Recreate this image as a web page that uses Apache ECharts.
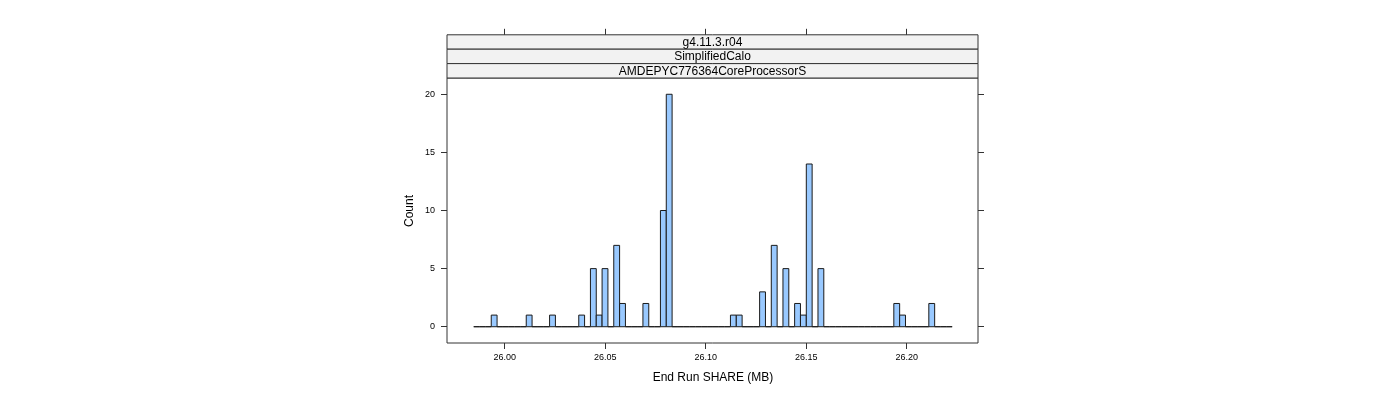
<!DOCTYPE html>
<html>
<head>
<meta charset="UTF-8">
<title>End Run SHARE histogram</title>
<script src="https://cdn.jsdelivr.net/npm/echarts@6.0.0/dist/echarts.min.js"></script>
<style>
    html, body { margin: 0; padding: 0; background: #fff; }
    #chart { width: 1400px; height: 400px; }
</style>
</head>
<body>
<div id="chart"></div>
<script>
// histogram bins: start, width and counts per bin
const binStart = 25.9846;
const binWidth = 0.002903;
const counts = [
    0, 0, 0, 1, 0, 0, 0, 0, 0, 1,
    0, 0, 0, 1, 0, 0, 0, 0, 1, 0,
    5, 1, 5, 0, 7, 2, 0, 0, 0, 2,
    0, 0, 10, 20, 0, 0, 0, 0, 0, 0,
    0, 0, 0, 0, 1, 1, 0, 0, 0, 3,
    0, 7, 0, 5, 0, 2, 1, 14, 0, 5,
    0, 0, 0, 0, 0, 0, 0, 0, 0, 0,
    0, 0, 2, 1, 0, 0, 0, 0, 2, 0,
    0, 0
];
const xTicks = [26.00, 26.05, 26.10, 26.15, 26.20];
const yTicks = [0, 5, 10, 15, 20];
const stripLabels = ['g4.11.3.r04', 'SimplifiedCalo', 'AMDEPYC776364CoreProcessorS'];

const bins = counts.map((c, i) => [binStart + i * binWidth, binStart + (i + 1) * binWidth, c]);

const font = 'Liberation Sans, Arial, sans-serif';
const panel = { left: 447, top: 78, width: 531, height: 265 };
const stripH = 14.4;

const chart = echarts.init(document.getElementById('chart'));

const tickStyle = { show: true, length: 6, inside: false, lineStyle: { color: '#333', width: 1 } };
const noLine = { show: false, onZero: false };

const graphics = [];
stripLabels.forEach((label, i) => {
    const y = panel.top - stripH * (stripLabels.length - i);
    graphics.push({
        type: 'rect',
        shape: { x: panel.left, y: y, width: panel.width, height: stripH },
        style: { fill: '#f2f2f2', stroke: '#333', lineWidth: 1 }
    });
    graphics.push({
        type: 'text',
        x: panel.left + panel.width / 2,
        y: y + stripH / 2 + 0.5,
        style: { text: label, fill: '#000', font: '12px ' + font, align: 'center', verticalAlign: 'middle' }
    });
});
graphics.push({
    type: 'text',
    x: 410,
    y: 211,
    rotation: Math.PI / 2,
    style: { text: 'Count', fill: '#000', font: '12px ' + font, align: 'center', verticalAlign: 'middle' }
});
graphics.push({
    type: 'text',
    x: 713,
    y: 378,
    style: { text: 'End Run SHARE (MB)', fill: '#000', font: '12px ' + font, align: 'center', verticalAlign: 'middle' }
});

const option = {
    animation: false,
    backgroundColor: '#fff',
    grid: Object.assign({ show: true, borderColor: '#333', borderWidth: 1, backgroundColor: 'transparent' }, panel),
    xAxis: [
        {
            type: 'value',
            min: 25.9713,
            max: 26.2355,
            position: 'bottom',
            axisLine: noLine,
            splitLine: { show: false },
            axisTick: Object.assign({ customValues: xTicks }, tickStyle),
            axisLabel: {
                customValues: xTicks,
                formatter: v => v.toFixed(2),
                fontFamily: font, fontSize: 9, color: '#000', margin: 10
            }
        },
        {
            type: 'value',
            min: 25.9713,
            max: 26.2355,
            position: 'top',
            offset: stripH * stripLabels.length,
            axisLine: noLine,
            splitLine: { show: false },
            axisTick: Object.assign({ customValues: xTicks }, tickStyle),
            axisLabel: { show: false }
        }
    ],
    yAxis: [
        {
            type: 'value',
            min: -1.4,
            max: 21.4,
            position: 'left',
            axisLine: noLine,
            splitLine: { show: false },
            axisTick: Object.assign({ customValues: yTicks }, tickStyle),
            axisLabel: { customValues: yTicks, fontFamily: font, fontSize: 9, color: '#000', margin: 12 }
        },
        {
            type: 'value',
            min: -1.4,
            max: 21.4,
            position: 'right',
            axisLine: noLine,
            splitLine: { show: false },
            axisTick: Object.assign({ customValues: yTicks }, tickStyle),
            axisLabel: { show: false }
        }
    ],
    series: [{
        type: 'custom',
        xAxisIndex: 0,
        yAxisIndex: 0,
        data: bins,
        renderItem: function (params, api) {
            const p0 = api.coord([api.value(0), api.value(2)]);
            const p1 = api.coord([api.value(1), 0]);
            return {
                type: 'rect',
                shape: { x: p0[0], y: p0[1], width: p1[0] - p0[0], height: p1[1] - p0[1] },
                style: { fill: '#99c9ff', stroke: '#1a1a1a', lineWidth: 1 }
            };
        }
    }],
    graphic: graphics
};

chart.setOption(option);
</script>
</body>
</html>
